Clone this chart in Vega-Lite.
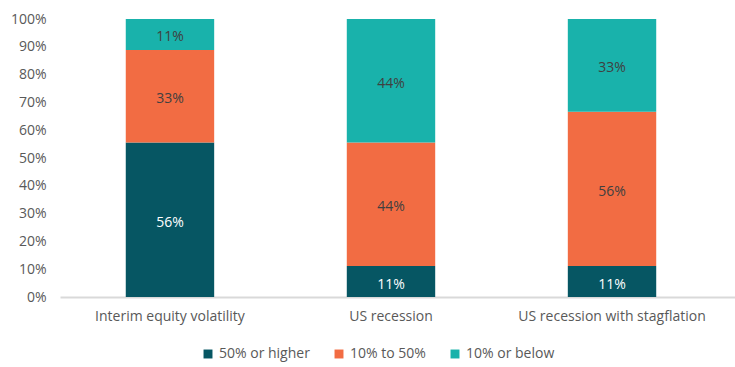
{
  "$schema": "https://vega.github.io/schema/vega-lite/v6.json",
  "width": 675,
  "height": 278,
  "autosize": "none",
  "padding": {"left": 60, "top": 19, "right": 0, "bottom": 70},
  "config": {
    "view": {"stroke": null},
    "font": "Open Sans",
    "axis": {"labelColor": "#595959", "labelFontSize": 14, "labelFont": "Open Sans"},
    "axisY": {"labelOverlap": false},
    "legend": {"labelColor": "#595959", "labelFontSize": 14, "labelFont": "Open Sans"}
  },
  "data": {
    "values": [
      {"scenario": "Interim equity volatility", "band": "50% or higher", "rank": 1, "share": 0.5556},
      {"scenario": "Interim equity volatility", "band": "10% to 50%", "rank": 2, "share": 0.3333},
      {"scenario": "Interim equity volatility", "band": "10% or below", "rank": 3, "share": 0.1111},
      {"scenario": "US recession", "band": "50% or higher", "rank": 1, "share": 0.1111},
      {"scenario": "US recession", "band": "10% to 50%", "rank": 2, "share": 0.4444},
      {"scenario": "US recession", "band": "10% or below", "rank": 3, "share": 0.4445},
      {"scenario": "US recession with stagflation", "band": "50% or higher", "rank": 1, "share": 0.1111},
      {"scenario": "US recession with stagflation", "band": "10% to 50%", "rank": 2, "share": 0.5556},
      {"scenario": "US recession with stagflation", "band": "10% or below", "rank": 3, "share": 0.3333}
    ]
  },
  "layer": [
    {
      "mark": {"type": "bar"},
      "encoding": {
        "x": {
          "field": "scenario", "type": "nominal",
          "sort": ["Interim equity volatility", "US recession", "US recession with stagflation"],
          "scale": {"paddingInner": 0.6, "paddingOuter": 0.327, "align": 0.455},
          "axis": {"title": null, "labelAngle": 0, "ticks": false, "domainColor": "#d9d9d9", "domainWidth": 2, "labelPadding": 12, "labelLimit": 400}
        },
        "y": {
          "field": "share", "type": "quantitative", "stack": "zero",
          "scale": {"domain": [0, 1], "nice": false},
          "axis": {"title": null, "format": ".0%", "values": [0, 0.1, 0.2, 0.3, 0.4, 0.5, 0.6, 0.7, 0.8, 0.9, 1], "labelOverlap": false, "grid": false, "domain": false, "ticks": false, "labelPadding": 14}
        },
        "color": {
          "field": "band", "type": "nominal",
          "scale": {"domain": ["50% or higher", "10% to 50%", "10% or below"], "range": ["#065663", "#f26c43", "#19b2ab"]},
          "legend": {"title": null, "orient": "none", "direction": "horizontal", "legendX": 141, "legendY": 328, "symbolType": "square", "symbolSize": 80, "columnPadding": 22, "labelOffset": 4}
        },
        "order": {"field": "rank", "type": "quantitative"}
      }
    },
    {
      "transform": [
        {"stack": "share", "groupby": ["scenario"], "sort": [{"field": "rank", "order": "ascending"}], "as": ["v0", "v1"]},
        {"fold": ["v0", "v1"], "as": ["edge", "pos"]},
        {"aggregate": [{"op": "mean", "field": "pos", "as": "mid"}], "groupby": ["scenario", "band", "share"]}
      ],
      "mark": {"type": "text", "fontSize": 14, "baseline": "middle", "dy": 3},
      "encoding": {
        "x": {
          "field": "scenario", "type": "nominal",
          "sort": ["Interim equity volatility", "US recession", "US recession with stagflation"],
          "axis": {"title": null, "labelAngle": 0, "ticks": false, "domainColor": "#d9d9d9", "domainWidth": 2, "labelPadding": 12, "labelLimit": 400}
        },
        "y": {
          "field": "mid", "type": "quantitative",
          "axis": {"title": null, "format": ".0%", "values": [0, 0.1, 0.2, 0.3, 0.4, 0.5, 0.6, 0.7, 0.8, 0.9, 1], "labelOverlap": false, "grid": false, "domain": false, "ticks": false, "labelPadding": 14}
        },
        "text": {"field": "share", "type": "quantitative", "format": ".0%"},
        "color": {"condition": {"test": "datum.band === '50% or higher'", "value": "#ffffff"}, "value": "#404040"}
      }
    }
  ]
}
